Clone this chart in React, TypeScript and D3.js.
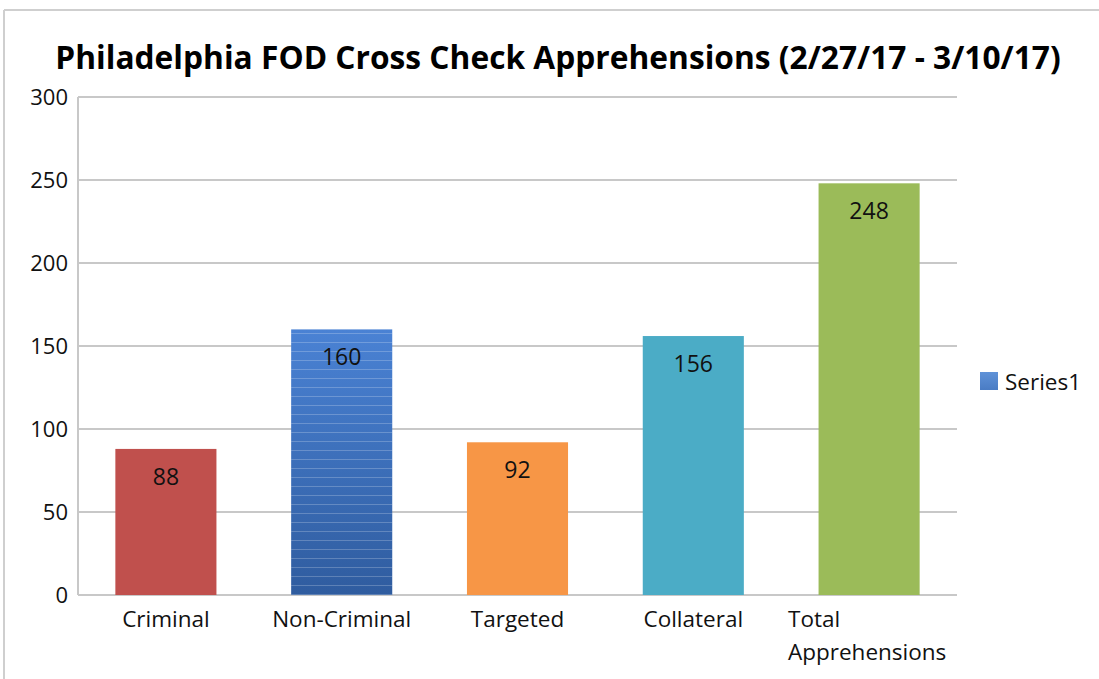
import React, { useLayoutEffect, useRef, useState } from "react";
import * as d3 from "d3";

const categories = ["Criminal", "Non-Criminal", "Targeted", "Collateral", "Total Apprehensions"];
const values = [88, 160, 92, 156, 248];
const barColors = ["#c0504d", "url(#blueGrad)", "#f79646", "#4bacc6", "#9bbb59"];
const yTicks = [0, 50, 100, 150, 200, 250, 300];
const seriesName = "Series1";
const title = "Philadelphia FOD Cross Check Apprehensions (2/27/17 - 3/10/17)";

export default function App() {
  const W = 1099, H = 679;
  const left = 78, right = 957, top = 97, bottom = 595;
  const x = d3.scaleBand<string>().domain(categories).range([left, right]).paddingInner(0.425).paddingOuter(0.2125);
  const y = d3.scaleLinear().domain([0, 300]).range([bottom, top]);
  const font = "'Open Sans', 'Noto Sans', sans-serif";
  const titleRef = useRef<SVGTextElement>(null);
  const [sx, setSx] = useState(0.9);
  const titleW = 1005;
  const titleCx = 558;

  useLayoutEffect(() => {
    if (titleRef.current) {
      const len = titleRef.current.getComputedTextLength();
      if (len > 0) setSx(titleW / len);
    }
  }, []);

  return (
    <svg width={W} height={H} style={{ position: "absolute", left: 0, top: 0, background: "#fff" }}>
      <defs>
        <linearGradient id="blueGrad" x1="0" y1="0" x2="0" y2="1">
          <stop offset="0%" stopColor="#4a82d4" />
          <stop offset="100%" stopColor="#2f5c9f" />
        </linearGradient>
        <pattern id="stripes" width="10" height="9" patternUnits="userSpaceOnUse">
          <rect x="0" y="0" width="10" height="1" fill="#ffffff" opacity="0.22" />
        </pattern>
        <linearGradient id="legGrad" x1="0" y1="0" x2="0" y2="1">
          <stop offset="0%" stopColor="#5f92d8" />
          <stop offset="100%" stopColor="#4a7cc4" />
        </linearGradient>
      </defs>
      <rect x={0} y={0} width={W} height={H} fill="#fff" />
      <line x1={4} x2={W} y1={10} y2={10} stroke="#cfcfcf" strokeWidth={2} />
      <line x1={4} x2={4} y1={10} y2={H} stroke="#cfcfcf" strokeWidth={2} />
      <g transform={`translate(${titleCx},69) scale(${sx},1)`}>
        <text ref={titleRef} x={0} y={0} textAnchor="middle" fontFamily={font} fontWeight="bold" fontSize={33} fill="#000">
          {title}
        </text>
      </g>
      {yTicks.map((t) => (
        <g key={t}>
          <line x1={left} x2={right} y1={y(t)} y2={y(t)} stroke="#c8c8c8" strokeWidth={2} />
          <text x={68} y={y(t) + 8} textAnchor="end" fontFamily={font} fontSize={22} fill="#111">
            {t}
          </text>
        </g>
      ))}
      <line x1={left} x2={left} y1={top} y2={bottom} stroke="#c8c8c8" strokeWidth={2} />
      {categories.map((c, i) => {
        const bx = x(c)!;
        const bw = x.bandwidth();
        const by = y(values[i]);
        const bh = bottom - by;
        return (
          <g key={c}>
            <rect x={bx} y={by} width={bw} height={bh} fill={barColors[i]} />
            {i === 1 && <rect x={bx} y={by} width={bw} height={bh} fill="url(#stripes)" />}
            <text x={bx + bw / 2} y={by + 36} textAnchor="middle" fontFamily={font} fontSize={23} fill="#111">
              {values[i]}
            </text>
          </g>
        );
      })}
      {categories.map((c) => {
        const cx = x(c)! + x.bandwidth() / 2;
        const words = c === "Total Apprehensions" ? ["Total", "Apprehensions"] : [c];
        if (words.length === 1) {
          return (
            <text key={c} x={cx} y={627} textAnchor="middle" fontFamily={font} fontSize={22.5} fill="#111">
              {c}
            </text>
          );
        }
        return (
          <g key={c}>
            <text x={788} y={627} fontFamily={font} fontSize={22.5} fill="#111">{words[0]}</text>
            <text x={788} y={660} fontFamily={font} fontSize={22.5} fill="#111">{words[1]}</text>
          </g>
        );
      })}
      <rect x={980} y={372} width={18} height={18} fill="url(#legGrad)" />
      <text x={1005} y={390} fontFamily={font} fontSize={22.5} fill="#111">{seriesName}</text>
    </svg>
  );
}
